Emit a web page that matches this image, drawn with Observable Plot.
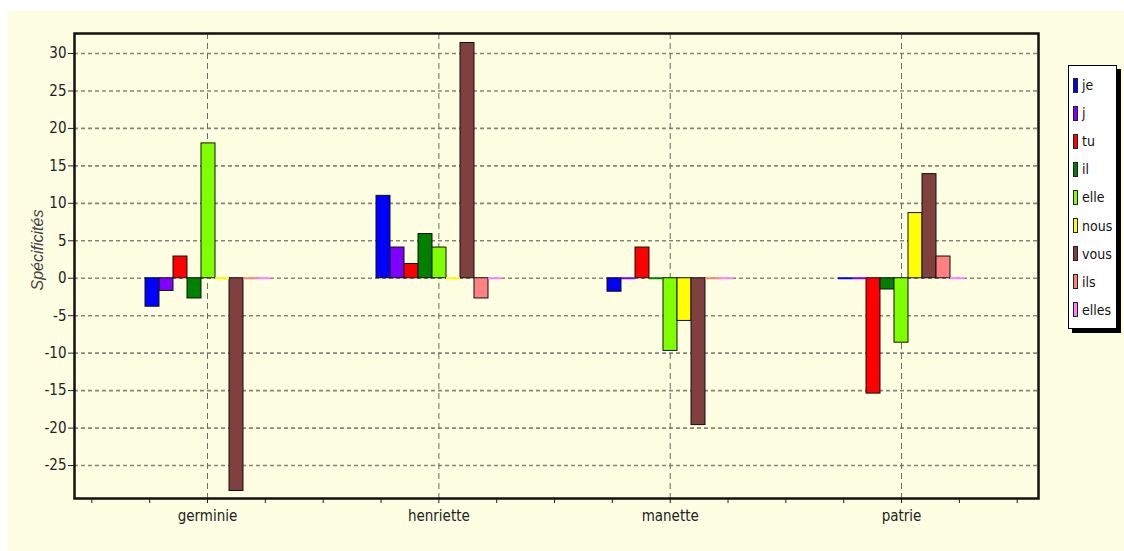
<!DOCTYPE html>
<html><head><meta charset="utf-8">
<script src="https://cdn.jsdelivr.net/npm/d3@7"></script>
<script src="https://cdn.jsdelivr.net/npm/@observablehq/plot@0.6"></script>
<style>
html,body{margin:0;padding:0;background:#fff;width:1124px;height:551px;overflow:hidden;position:relative;}
#bg{position:absolute;left:8px;top:11px;width:1116px;height:540px;background:#FEFEE3;}
.layer{position:absolute;left:0;top:0;}
#ylabel{position:absolute;left:38px;top:250px;transform:translate(-50%,-50%) rotate(-90deg);font:italic 16px "Liberation Sans", Arial, sans-serif;color:#444;white-space:nowrap;}
#legend{position:absolute;left:1068px;top:65px;width:47px;height:262px;background:#fff;border:1px solid #000;box-shadow:4px 4px 0 #000;font:14px "Liberation Sans Narrow","DejaVu Sans Condensed",Arial,sans-serif;color:#111;}
.item{position:absolute;left:4px;height:16px;display:flex;align-items:center;}
.sw{width:3px;height:13px;border:1px solid #222;margin-right:4px;}
</style>
</head><body>
<div id="bg"></div>
<div id="base" class="layer"></div>
<div id="bars" class="layer"></div>
<div id="ylabel">Spécificités</div>
<div id="legend"></div>
<script>
const categories = ["germinie", "henriette", "manette", "patrie"];
const series = ["je", "j", "tu", "il", "elle", "nous", "vous", "ils", "elles"];
const colors = ["#0000FF", "#8000FF", "#FF0000", "#008000", "#80FF00", "#FFFF00", "#804040", "#FF8080", "#FF80FF"];
const germinie  = [-3.8, -1.7, 2.9, -2.7, 18.0, 0, -28.4, 0, 0];
const henriette = [11.0, 4.1, 1.9, 5.9, 4.1, 0, 31.4, -2.7, 0];
const manette   = [-1.8, 0, 4.1, 0, -9.7, -5.7, -19.6, 0, 0];
const patrie    = [0, 0, -15.4, -1.5, -8.6, 8.7, 13.9, 2.9, 0];
const yTicks = [-25, -20, -15, -10, -5, 0, 5, 10, 15, 20, 25, 30];
const xTicks = d3.range(-0.5, 3.51, 0.25);

const valuesByCat = [germinie, henriette, manette, patrie];
const rows = [];
categories.forEach((c, ci) => series.forEach((s, si) => rows.push({cat: c, series: s, value: valuesByCat[ci][si]})));

const W = 1124, H = 551;
const margins = {marginTop: 33, marginRight: 86, marginBottom: 53, marginLeft: 74};
const yDomain = [-29.4, 32.67];
const font = '"Liberation Sans Narrow","DejaVu Sans Condensed",Arial,sans-serif';

const base = Plot.plot({
  width: W, height: H, ...margins,
  style: {background: "transparent", fontFamily: font, fontSize: "15px", color: "#222"},
  x: {type: "linear", domain: [-0.575, 3.592], ticks: xTicks,
      tickFormat: d => Number.isInteger(d) && d >= 0 ? categories[d] : "",
      tickSize: 5, tickPadding: 7, label: null},
  y: {domain: yDomain, ticks: yTicks, tickFormat: d => String(d), tickSize: 6, tickPadding: 2, label: null},
  marks: [
    Plot.ruleY(yTicks, {stroke: "#85857a", strokeWidth: 1.6, strokeDasharray: "4,3"}),
    Plot.ruleX(categories, {x: (d, i) => i, stroke: "#6a6a60", strokeWidth: 1, strokeDasharray: "6,4"}),
    Plot.frame({stroke: "#111", strokeWidth: 2.5})
  ]
});
document.getElementById("base").appendChild(base);

const bars = Plot.plot({
  width: W, height: H, ...margins,
  style: {background: "transparent", fontFamily: font},
  facet: {data: rows, x: "cat"},
  fx: {domain: categories, paddingInner: 0.438, paddingOuter: 0.3026, align: 0.486, axis: null, label: null},
  x: {domain: series, padding: 0, axis: null},
  y: {domain: yDomain, axis: null},
  color: {domain: series, range: colors},
  marks: [
    Plot.barY(rows, {x: "series", y: "value", fill: "series", stroke: "#111", strokeWidth: 1}),
    Plot.tickY(rows, {filter: d => d.value === 0, x: "series", y: "value", stroke: "series", strokeWidth: 2})
  ]
});
document.getElementById("bars").appendChild(bars);

const legend = document.getElementById("legend");
series.forEach((s, i) => {
  const it = document.createElement("div");
  it.className = "item";
  it.style.top = (11 + i * 28.1) + "px";
  const sw = document.createElement("span");
  sw.className = "sw";
  sw.style.background = colors[i];
  const t = document.createElement("span");
  t.textContent = s;
  it.appendChild(sw); it.appendChild(t);
  legend.appendChild(it);
});
</script>
</body></html>
